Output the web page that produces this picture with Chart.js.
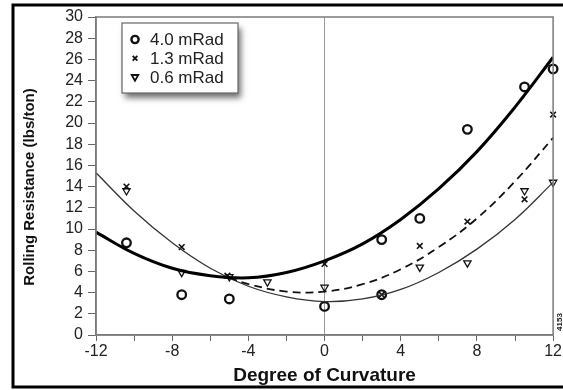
<!DOCTYPE html>
<html>
<head>
<meta charset="utf-8">
<script src="https://cdn.jsdelivr.net/npm/chart.js@4"></script>
<style>
  html, body { margin: 0; padding: 0; background: #fff; }
  #wrap { width: 563px; height: 390px; }
</style>
</head>
<body>
<div id="wrap"><canvas id="curveChart"></canvas></div>
<script>
// measured points
const circleX = [-10.4, -7.5, -5, 0, 3, 3, 5, 7.5, 10.5, 12];
const circleY = [8.7, 3.8, 3.4, 2.7, 3.8, 9.0, 11.0, 19.4, 23.4, 25.1];
const crossX = [-10.4, -7.5, -5.1, 0, 3, 5, 7.5, 10.5, 12];
const crossY = [14.0, 8.3, 5.6, 6.7, 3.8, 8.4, 10.7, 12.8, 20.8];
const triX = [-10.4, -7.5, -5, -3, 0, 5, 7.5, 10.5, 12];
const triY = [13.6, 5.9, 5.5, 5.0, 4.5, 6.4, 6.8, 13.6, 14.4];

// fitted curves
const fitX = [-12, -10, -8, -6, -4, -2, 0, 2, 4, 6, 8, 10, 12];
const fit40 = [9.7, 7.7, 6.3, 5.6, 5.4, 5.9, 7.0, 8.6, 10.9, 13.8, 17.3, 21.5, 26.2];
const fit06 = [15.3, 11.7, 8.7, 6.3, 4.6, 3.6, 3.15, 3.4, 4.3, 5.9, 8.1, 10.9, 14.4];
const fit13X = [-5, -4, -2, 0, 2, 4, 6, 8, 10, 12];
const fit13 = [5.4, 4.8, 4.1, 4.1, 4.8, 6.2, 8.3, 11.0, 14.5, 18.6];

const legendLabels = ['4.0 mRad', '1.3 mRad', '0.6 mRad'];

const pts = (xs, ys) => xs.map((x, i) => ({ x: x, y: ys[i] }));
const FONT = 'Liberation Sans, Arial, Helvetica, sans-serif';

const markers = [
  { pointStyle: 'circle', rotation: 0, radius: 3.6, borderWidth: 2.4 },
  { pointStyle: 'crossRot', rotation: 0, radius: 3.3, borderWidth: 1.8 },
  { pointStyle: 'triangle', rotation: 180, radius: 3.8, borderWidth: 1.8 }
];

const framePlugin = {
  id: 'frame',
  beforeDraw(chart) {
    const c = chart.ctx;
    c.save();
    c.fillStyle = '#fff';
    c.fillRect(0, 0, chart.width, chart.height);
    c.restore();
  },
  afterDraw(chart) {
    const c = chart.ctx;
    const a = chart.chartArea;
    c.save();
    // plot box
    c.strokeStyle = '#7a7a7a';
    c.lineWidth = 1.5;
    c.strokeRect(a.left, a.top, a.right - a.left, a.bottom - a.top);

    // outer black frame
    c.strokeStyle = '#000';
    c.lineWidth = 3;
    c.beginPath();
    c.moveTo(566, 5);
    c.lineTo(13, 5);
    c.lineTo(13, 387);
    c.lineTo(566, 387);
    c.stroke();

    // y title
    c.fillStyle = '#111';
    c.font = 'bold 15px ' + FONT;
    c.textAlign = 'center';
    c.textBaseline = 'middle';
    c.translate(30, 187);
    c.rotate(-Math.PI / 2);
    c.fillText('Rolling Resistance (lbs/ton)', 0, 0);
    c.restore();

    // figure number
    c.save();
    c.fillStyle = '#222';
    c.font = 'bold 8px ' + FONT;
    c.textAlign = 'center';
    c.textBaseline = 'middle';
    c.translate(560, 322);
    c.rotate(-Math.PI / 2);
    c.fillText('4153', 0, 0);
    c.restore();

    // legend box
    c.save();
    c.shadowColor = 'rgba(0,0,0,0.55)';
    c.shadowBlur = 6;
    c.shadowOffsetX = 3;
    c.shadowOffsetY = 5;
    c.fillStyle = '#fff';
    c.fillRect(122, 23, 116, 70);
    c.shadowColor = 'transparent';
    c.strokeStyle = '#666';
    c.lineWidth = 1.2;
    c.strokeRect(122, 23, 116, 70);
    c.font = '17px ' + FONT;
    c.textAlign = 'left';
    c.textBaseline = 'middle';
    legendLabels.forEach((txt, i) => {
      const y = 39.5 + i * 18.7;
      c.strokeStyle = '#111';
      c.fillStyle = 'rgba(0,0,0,0)';
      c.lineWidth = markers[i].borderWidth;
      Chart.helpers.drawPoint(c, markers[i], 135, y);
      c.fillStyle = '#222';
      c.fillText(txt, 150, y + 1);
    });
    c.restore();
  }
};

const ctx = document.getElementById('curveChart');

new Chart(ctx, {
  type: 'scatter',
  data: {
    datasets: [
      {
        label: 'fit 4.0',
        type: 'line',
        data: pts(fitX, fit40),
        borderColor: '#000',
        borderWidth: 3,
        pointRadius: 0,
        tension: 0.4,
        fill: false
      },
      {
        label: 'fit 1.3',
        type: 'line',
        data: pts(fit13X, fit13),
        borderColor: '#111',
        borderWidth: 1.8,
        borderDash: [8, 5],
        pointRadius: 0,
        tension: 0.4,
        fill: false
      },
      {
        label: 'fit 0.6',
        type: 'line',
        data: pts(fitX, fit06),
        borderColor: '#333',
        borderWidth: 1.3,
        pointRadius: 0,
        tension: 0.4,
        fill: false
      },
      {
        label: legendLabels[0],
        data: pts(circleX, circleY),
        pointStyle: 'circle',
        pointRadius: 4.3,
        pointBorderWidth: 2.3,
        borderColor: '#111',
        backgroundColor: 'rgba(0,0,0,0)',
        clip: false
      },
      {
        label: legendLabels[1],
        data: pts(crossX, crossY),
        pointStyle: 'crossRot',
        pointRadius: 4,
        pointBorderWidth: 1.6,
        borderColor: '#111',
        backgroundColor: 'rgba(0,0,0,0)',
        clip: false
      },
      {
        label: legendLabels[2],
        data: pts(triX, triY),
        pointStyle: 'triangle',
        rotation: 180,
        pointRadius: 4.2,
        pointBorderWidth: 1.3,
        borderColor: '#111',
        backgroundColor: 'rgba(0,0,0,0)',
        clip: false
      }
    ]
  },
  options: {
    responsive: true,
    maintainAspectRatio: false,
    animation: false,
    layout: { padding: { top: 17, right: 7, left: 0, bottom: 0 } },
    plugins: {
      legend: { display: false },
      tooltip: { enabled: false }
    },
    scales: {
      x: {
        type: 'linear',
        min: -12,
        max: 12,
        afterFit: s => { s.height = 55; },
        ticks: {
          stepSize: 2,
          autoSkip: false,
          maxRotation: 0,
          padding: 1,
          color: '#222',
          font: { family: FONT, size: 16 },
          callback: v => (v % 4 === 0 ? v : '')
        },
        grid: {
          color: c => (c.tick && c.tick.value === 0 ? '#999' : 'rgba(0,0,0,0)'),
          lineWidth: 1,
          tickColor: '#666',
          tickLength: 6
        },
        border: { color: '#7a7a7a', width: 1.5 },
        title: {
          display: true,
          text: 'Degree of Curvature',
          color: '#111',
          font: { family: FONT, size: 19, weight: 'bold' },
          padding: { top: 0, bottom: 3 }
        }
      },
      y: {
        min: 0,
        max: 30,
        afterFit: s => { s.width = 96; },
        ticks: {
          stepSize: 2,
          autoSkip: false,
          padding: 5,
          color: '#222',
          font: { family: FONT, size: 16 }
        },
        grid: {
          drawOnChartArea: false,
          tickColor: '#666',
          tickLength: 8
        },
        border: { color: '#7a7a7a', width: 1.5 }
      }
    }
  },
  plugins: [framePlugin]
});
</script>
</body>
</html>
